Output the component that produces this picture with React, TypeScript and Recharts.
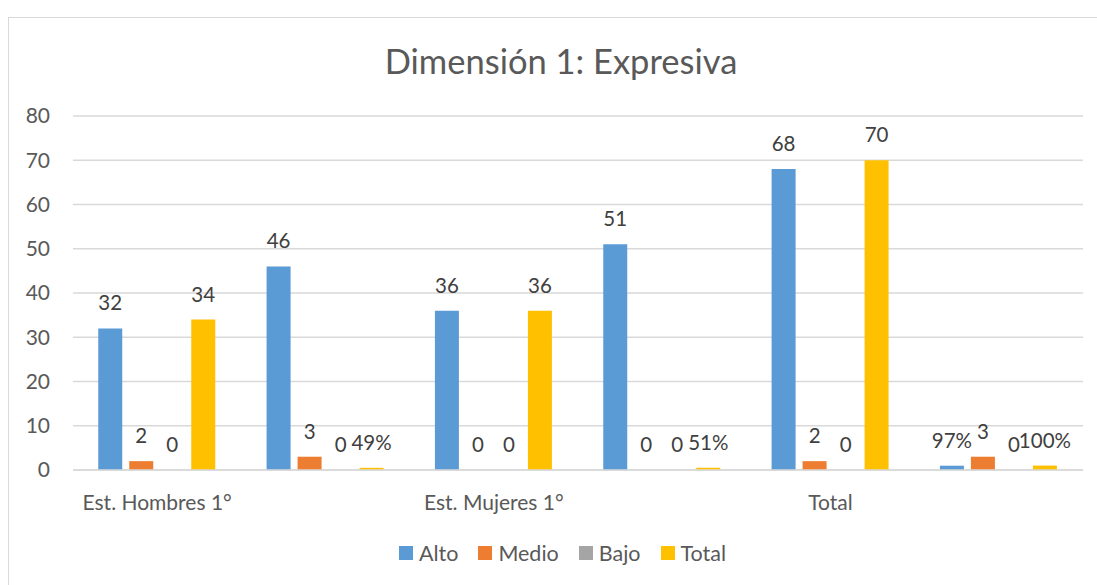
import React from 'react';
import { BarChart, Bar, XAxis, YAxis, CartesianGrid, LabelList } from 'recharts';

const categories = ['Est. Hombres 1°', '', 'Est. Mujeres 1°', '', 'Total', ''];
const alto = [32, 46, 36, 51, 68, 0.97];
const medio = [2, 3, 0, 0, 2, 3];
const bajo = [0, 0, 0, 0, 0, 0];
const total = [34, 0.49, 36, 0.51, 70, 1];
const altoLabels = ['32', '46', '36', '51', '68', '97%'];
const medioLabels = ['2', '3', '0', '0', '2', '3'];
const bajoLabels = ['0', '0', '0', '0', '0', '0'];
const totalLabels = ['34', '49%', '36', '51%', '70', '100%'];
const yTicks = [0, 10, 20, 30, 40, 50, 60, 70, 80];

const series = [
  { key: 'alto', name: 'Alto', color: '#5B9BD5' },
  { key: 'medio', name: 'Medio', color: '#ED7D31' },
  { key: 'bajo', name: 'Bajo', color: '#A5A5A5' },
  { key: 'total', name: 'Total', color: '#FFC000' },
];

const data = categories.map((c, i) => ({
  id: i,
  alto: alto[i],
  medio: medio[i],
  bajo: bajo[i],
  total: total[i],
  altoLabel: altoLabels[i],
  medioLabel: medioLabels[i],
  bajoLabel: bajoLabels[i],
  totalLabel: totalLabels[i],
}));

const FONT = 'Lato, "Open Sans", sans-serif';

export default function App() {
  return (
    <div
      style={{
        position: 'absolute',
        left: 0,
        top: 0,
        width: 1097,
        height: 585,
        overflow: 'hidden',
        background: '#fff',
        fontFamily: FONT,
      }}
    >
      <div
        style={{
          position: 'absolute',
          left: 8,
          top: 17,
          width: 1200,
          height: 700,
          border: '1px solid #D9D9D9',
        }}
      />
      <div
        style={{
          position: 'absolute',
          left: 261,
          width: 600,
          top: 41,
          textAlign: 'center',
          fontSize: 34.5,
          color: '#595959',
          lineHeight: '40px',
        }}
      >
        Dimensión 1: Expresiva
      </div>
      <div style={{ position: 'absolute', left: 0, top: 0 }}>
        <BarChart
          width={1097}
          height={585}
          data={data}
          margin={{ top: 116, right: 14, left: 0, bottom: 75 }}
          barCategoryGap="15%"
          barGap={7}
        >
          <CartesianGrid vertical={false} stroke="#D9D9D9" strokeWidth={1.3} />
          <XAxis
            dataKey="id"
            height={40}
            tickFormatter={(v: number) => categories[v]}
            tickLine={false}
            axisLine={{ stroke: '#D9D9D9', strokeWidth: 1.3 }}
            tick={{ fill: '#595959', fontSize: 21, fontFamily: FONT }}
            tickMargin={19}
            interval={0}
          />
          <YAxis
            domain={[0, 80]}
            ticks={yTicks}
            width={73}
            tickLine={false}
            axisLine={false}
            tickSize={0}
            tickMargin={23}
            tick={{ fill: '#595959', fontSize: 21, fontFamily: FONT }}
          />
          {series.map((s) => (
            <Bar
              key={s.key}
              dataKey={s.key}
              name={s.name}
              fill={s.color}
              minPointSize={0.01}
              isAnimationActive={false}
            >
              <LabelList
                dataKey={`${s.key}Label`}
                position="top"
                offset={18}
                fill="#404040"
                fontSize={20.5}
                fontFamily={FONT}
              />
            </Bar>
          ))}
        </BarChart>
      </div>
      <div
        style={{
          position: 'absolute',
          left: 0,
          width: 1125,
          top: 541,
          display: 'flex',
          justifyContent: 'center',
          gap: 20,
          fontSize: 21.5,
          color: '#595959',
          lineHeight: '24px',
        }}
      >
        {series.map((s) => (
          <div key={s.key} style={{ display: 'flex', alignItems: 'center' }}>
            <span style={{ width: 14, height: 14, background: s.color, display: 'inline-block', marginRight: 6 }} />
            <span>{s.name}</span>
          </div>
        ))}
      </div>
    </div>
  );
}
